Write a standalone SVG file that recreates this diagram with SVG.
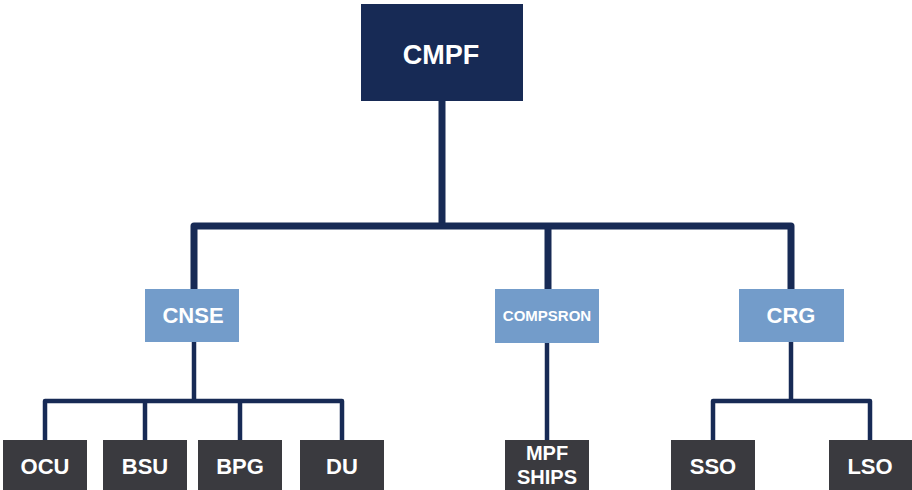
<svg xmlns="http://www.w3.org/2000/svg" width="912" height="490" viewBox="0 0 912 490">
<style>
.top{fill:#172a55}
.mid{fill:#739cca}
.bot{fill:#3a3a3f}
.t{font-family:"Liberation Sans",Arial,sans-serif;font-weight:bold;fill:#ffffff;text-anchor:middle;dominant-baseline:central}
.c1{fill:none;stroke:#172a55;stroke-width:7;stroke-linejoin:round}
.c2{fill:none;stroke:#172a55;stroke-width:4.5;stroke-linejoin:round}
</style>
<rect width="912" height="490" fill="#ffffff"/>
<g id="connectors">
<path class="c1" d="M442,100 V226"/>
<path class="c1" d="M194,290 V226 H791 V290"/>
<path class="c1" d="M548,226 V290"/>
<path class="c2" d="M194,342 V401"/>
<path class="c2" d="M45,441 V401 H342 V441"/>
<path class="c2" d="M145,401 V441"/>
<path class="c2" d="M240,401 V441"/>
<path class="c2" d="M547,342 V441"/>
<path class="c2" d="M791,342 V401"/>
<path class="c2" d="M713,441 V401 H870 V441"/>
</g>
<g id="CMPF"><rect class="top" x="361" y="4" width="162" height="97"/><text class="t" x="441" y="55" font-size="27">CMPF</text></g>
<g id="CNSE"><rect class="mid" x="145" y="289" width="94" height="53"/><text class="t" x="193" y="315" font-size="22">CNSE</text></g>
<g id="COMPSRON"><rect class="mid" x="495" y="289" width="104" height="54"/><text class="t" x="547" y="315" font-size="15">COMPSRON</text></g>
<g id="CRG"><rect class="mid" x="739" y="289" width="105" height="53"/><text class="t" x="791" y="315" font-size="22">CRG</text></g>
<g id="OCU"><rect class="bot" x="3" y="440" width="84" height="52"/><text class="t" x="45" y="466" font-size="22">OCU</text></g>
<g id="BSU"><rect class="bot" x="103" y="440" width="84" height="52"/><text class="t" x="145" y="466" font-size="22">BSU</text></g>
<g id="BPG"><rect class="bot" x="198" y="440" width="84" height="52"/><text class="t" x="240" y="466" font-size="22">BPG</text></g>
<g id="DU"><rect class="bot" x="300" y="440" width="84" height="52"/><text class="t" x="342" y="466" font-size="22">DU</text></g>
<g id="MPFSHIPS"><rect class="bot" x="505" y="440" width="84" height="52"/><text class="t" x="547" y="453" font-size="20">MPF</text><text class="t" x="547" y="477" font-size="20">SHIPS</text></g>
<g id="SSO"><rect class="bot" x="671" y="440" width="84" height="52"/><text class="t" x="713" y="466" font-size="22">SSO</text></g>
<g id="LSO"><rect class="bot" x="829" y="440" width="84" height="52"/><text class="t" x="870" y="466" font-size="22">LSO</text></g>
</svg>
